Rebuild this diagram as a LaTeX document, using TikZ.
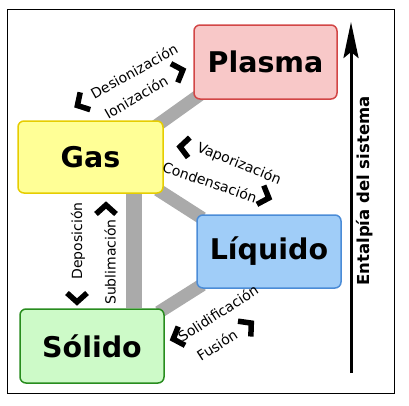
\documentclass[tikz,border=0pt]{standalone}
\usepackage{fontspec}
\setmainfont{DejaVu Sans}
\usetikzlibrary{arrows.meta,backgrounds}
\definecolor{plasmafill}{RGB}{248,200,200}
\definecolor{plasmaline}{RGB}{210,70,70}
\definecolor{gasfill}{RGB}{255,255,150}
\definecolor{gasline}{RGB}{230,205,0}
\definecolor{liqfill}{RGB}{160,205,248}
\definecolor{liqline}{RGB}{75,140,215}
\definecolor{solfill}{RGB}{205,250,200}
\definecolor{solline}{RGB}{40,140,30}
\definecolor{barcol}{RGB}{170,170,170}
\begin{document}
\begin{tikzpicture}[x=1pt,y=-1pt,
  statebox/.style={rounded corners=6pt, line width=1.5pt, inner sep=0pt,
    font=\fontsize{28.5}{32}\selectfont\bfseries},
  lbl/.style={inner sep=0pt, font=\fontsize{14}{16}\selectfont},
  bar/.style={draw=barcol, line width=13pt},
  chev/.pic={\draw[line width=5.5pt, line join=miter, miter limit=10] (-6,-10)--(3,0)--(-6,10);}]
\useasboundingbox (0,0) rectangle (409,405);
\draw[line width=1pt] (7,9) rectangle (394,393);

% state boxes
\node[statebox, draw=plasmaline, fill=plasmafill, minimum width=143pt, minimum height=74pt] (plasma) at (265.5,62) {Plasma};
\node[statebox, draw=gasline, fill=gasfill, minimum width=145pt, minimum height=72pt] (gas) at (90.5,157) {Gas};
\node[statebox, draw=liqline, fill=liqfill, minimum width=144pt, minimum height=73pt] (liquido) at (269,251.5) {Líquido};
\node[statebox, draw=solline, fill=solfill, minimum width=144pt, minimum height=74pt] (solido) at (92,346) {Sólido};

% connecting bars behind the boxes
\begin{pgfonlayer}{background}
\draw[bar] ([shift={(-8,6)}]gas.north east) -- ([shift={(8,-6)}]plasma.south west);
\draw[bar] ([shift={(-6,-4)}]gas.south east) -- ([shift={(6,4)}]liquido.north west);
\draw[bar, line width=16pt] ([xshift=-29.5pt]gas.south east) -- ([xshift=-29.5pt]gas.south east |- solido.north);
\draw[bar] ([shift={(-6,4)}]solido.north east) -- ([shift={(6,-4)}]liquido.south west);
\end{pgfonlayer}

% enthalpy axis
\coordinate (abot) at (351,373);
\coordinate (atop) at (351,22);
\draw[line width=3pt, -{Stealth[length=36pt,width=15pt,inset=6pt]}] (abot) -- (atop);
\node[inner sep=0pt, font=\fontsize{16.5}{18}\selectfont\bfseries, rotate=90] (ental) at (365,191) {Entalpía del sistema};

% transition labels
\node[lbl, rotate=29] (tdes) at (134,71) {Desionización};
\node[lbl, rotate=30] (tion) at (136,97) {Ionización};
\node[lbl, rotate=-22] (tvap) at (239,164) {Vaporización};
\node[lbl, rotate=-19] (tcon) at (210,182) {Condensación};
\node[lbl, rotate=90] (tdep) at (78,241) {Deposición};
\node[lbl, rotate=90] (tsub) at (110,262) {Sublimación};
\node[lbl, rotate=33] (tsol) at (218,313) {Solidificación};
\node[lbl, rotate=33] (tfus) at (217,345) {Fusión};

% chevrons
\pic[rotate=210] at (80,104) {chev};
\pic[rotate=20] at (180,71) {chev};
\pic[rotate=175] at (183,147) {chev};
\pic[rotate=-20] at (266,197) {chev};
\pic[rotate=90] at (106,208) {chev};
\pic[rotate=-90] at (77,299) {chev};
\pic[rotate=200] at (176,338) {chev};
\pic[rotate=40] at (249,325) {chev};
\end{tikzpicture}
\end{document}
